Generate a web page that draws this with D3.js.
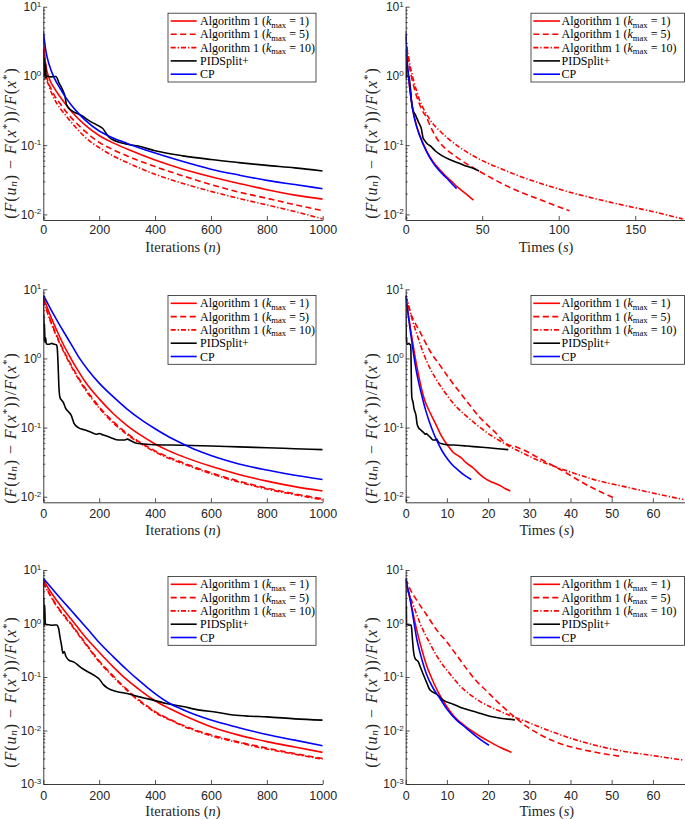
<!DOCTYPE html>
<html><head><meta charset="utf-8">
<script src="https://cdn.jsdelivr.net/npm/d3@7"></script>
<style>body{margin:0;background:#fff}svg{display:block}</style>
</head><body>
<svg id="chart" width="685" height="819"></svg>
<script>
// ---------------- DATA ----------------
const legendNames = ["Algorithm 1 (k_max = 1)", "Algorithm 1 (k_max = 5)", "Algorithm 1 (k_max = 10)", "PIDSplit+", "CP"];
const iterTicks = [0, 200, 400, 600, 800, 1000];
const topTimeTicks = [0, 50, 100, 150];
const timeTicks = [0, 10, 20, 30, 40, 50, 60];
const yExpTop = [1, 0, -1, -2];
const yExpBot = [1, 0, -1, -2, -3];

// Row 1, iterations
const topIterAlg1 = [[0,4.0],[5,2.0],[10,1.35],[20,0.95],[40,0.66],[60,0.50],[80,0.39],[100,0.31],[150,0.195],[200,0.138],[250,0.108],[300,0.088],[400,0.061],[500,0.045],[600,0.035],[700,0.028],[800,0.0227],[900,0.019],[1000,0.0166]];
const topIterAlg5 = [[0,3.6],[5,1.7],[10,1.1],[20,0.78],[40,0.52],[60,0.40],[80,0.31],[100,0.25],[150,0.158],[200,0.11],[250,0.086],[300,0.070],[400,0.049],[500,0.036],[600,0.027],[700,0.021],[800,0.0171],[900,0.0138],[1000,0.0113]];
const topIterAlg10 = [[0,3.3],[5,1.6],[10,1.0],[20,0.72],[40,0.46],[60,0.34],[80,0.27],[100,0.215],[150,0.13],[200,0.092],[250,0.07],[300,0.056],[400,0.038],[500,0.028],[600,0.0215],[700,0.017],[800,0.0137],[900,0.011],[1000,0.0086]];
const topIterPID = [[0,2.4],[2,1.0],[4,1.8],[6,0.9],[8,1.5],[10,0.95],[14,1.0],[25,0.97],[45,0.98],[57,0.78],[69,0.63],[78,0.5],[82,0.40],[87,0.36],[99,0.32],[135,0.27],[171,0.217],[195,0.193],[213,0.174],[225,0.148],[237,0.128],[249,0.12],[300,0.103],[340,0.097],[400,0.083],[500,0.07],[600,0.062],[700,0.056],[800,0.051],[900,0.047],[1000,0.0424]];
const topIterCP = [[0,4.46],[10,2.2],[20,1.5],[40,0.92],[60,0.66],[80,0.49],[100,0.38],[125,0.29],[150,0.23],[200,0.16],[250,0.127],[300,0.106],[400,0.077],[500,0.058],[600,0.045],[700,0.037],[800,0.031],[900,0.027],[1000,0.0235]];

// Row 1, times
const topTimeAlg1 = [[0,4.0],[0.5,2.3],[1,1.5],[1.7,1.05],[2.8,0.62],[4,0.41],[5,0.3],[7,0.195],[9.4,0.135],[13.7,0.082],[18,0.057],[22.3,0.044],[26.7,0.035],[30,0.03],[33.3,0.0255],[38,0.021],[44.3,0.0161]];
const topTimeAlg5 = [[0,3.6],[0.5,2.8],[1,2.3],[2,1.6],[3,1.15],[4,0.92],[5,0.75],[6.5,0.56],[8.5,0.42],[10.7,0.32],[13.7,0.25],[16,0.19],[19,0.14],[21.4,0.115],[26.75,0.086],[32.1,0.07],[42.8,0.049],[53.5,0.036],[64.2,0.027],[74.9,0.021],[85.6,0.0171],[96.3,0.0138],[107,0.0113]];
const topTimeAlg10 = [[0,3.8],[0.5,2.9],[1,2.4],[2,1.8],[3,1.35],[4,1.1],[5.5,0.8],[7.2,0.6],[9,0.45],[11.5,0.34],[14.5,0.26],[18.1,0.2],[22.4,0.16],[27.15,0.128],[36.2,0.09],[45.25,0.068],[54.3,0.054],[63,0.045],[72.4,0.037],[90.5,0.027],[108.6,0.0205],[126.7,0.0163],[144.8,0.0132],[162.9,0.0108],[181,0.0086]];
const topTimePID = [[0,2.4],[0.1,1.0],[0.2,1.8],[0.3,0.9],[0.4,1.5],[0.5,0.95],[1.0,1.0],[2.2,0.97],[2.8,0.75],[3.3,0.6],[3.8,0.42],[4.3,0.35],[5,0.31],[6.5,0.27],[8.3,0.217],[9.4,0.193],[10.2,0.174],[10.8,0.148],[11.3,0.128],[12,0.12],[14.4,0.103],[16.3,0.097],[19.2,0.083],[24,0.07],[28.8,0.062],[33.6,0.056],[38.4,0.051],[43.2,0.047],[48,0.0424]];
const topTimeCP = [[0,4.46],[0.5,2.5],[1,1.6],[1.7,1.1],[2.8,0.63],[4,0.4],[5,0.29],[7,0.19],[9.4,0.132],[13.7,0.080],[18,0.055],[22.3,0.042],[26.7,0.0335],[30,0.028],[33.3,0.0236]];

// Row 2, iterations
const midIterAlg1 = [[0,7.8],[25,4.2],[50,2.45],[75,1.5],[100,0.98],[125,0.66],[150,0.46],[200,0.26],[250,0.16],[300,0.107],[350,0.077],[400,0.058],[450,0.046],[500,0.038],[600,0.0275],[700,0.021],[800,0.0168],[900,0.014],[1000,0.0121]];
const midIterAlg5 = [[0,7.2],[25,3.6],[50,2.05],[75,1.25],[100,0.8],[125,0.53],[150,0.37],[200,0.2],[250,0.122],[300,0.082],[350,0.06],[400,0.046],[450,0.037],[500,0.031],[600,0.0222],[700,0.0168],[800,0.0133],[900,0.011],[1000,0.0093]];
const midIterAlg10 = [[0,7.0],[25,3.5],[50,1.98],[75,1.2],[100,0.77],[125,0.51],[150,0.355],[200,0.192],[250,0.117],[300,0.079],[350,0.058],[400,0.0445],[450,0.0358],[500,0.030],[600,0.0215],[700,0.0163],[800,0.0129],[900,0.0107],[1000,0.009]];
const midIterPID = [[0,8.0],[1,3.0],[2,4.5],[3,1.8],[4,3.2],[6,1.7],[8,2.0],[11,1.62],[20,1.6],[30,1.65],[40,1.6],[47,1.58],[50,1.4],[53,0.8],[56,0.38],[60,0.27],[65,0.25],[72,0.23],[80,0.19],[90,0.17],[100,0.15],[110,0.115],[125,0.1],[150,0.092],[175,0.084],[190,0.08],[200,0.082],[215,0.078],[240,0.072],[270,0.066],[290,0.066],[300,0.068],[315,0.064],[330,0.06],[360,0.058],[400,0.0565],[500,0.0555],[600,0.054],[700,0.0525],[800,0.051],[900,0.0495],[1000,0.048]];
const midIterCP = [[0,8.3],[25,5.3],[50,3.5],[75,2.35],[100,1.6],[130,1.0],[160,0.68],[200,0.44],[250,0.28],[300,0.185],[350,0.13],[400,0.096],[450,0.073],[500,0.058],[550,0.047],[600,0.0395],[650,0.034],[700,0.0298],[800,0.0243],[900,0.0204],[1000,0.0177]];

// Row 2, times
const midTimeAlg1 = [[0,7.8],[0.6,4.5],[1.2,2.6],[1.85,1.5],[2.65,0.8],[3.5,0.45],[4.2,0.3],[4.7,0.24],[5.9,0.165],[7.5,0.106],[8.7,0.075],[10.3,0.054],[11.5,0.044],[12.8,0.039],[13.6,0.036],[14.4,0.032],[16.4,0.026],[18,0.021],[19.6,0.0178],[21.2,0.016],[22.9,0.0145],[24.2,0.013],[25.4,0.0121]];
const midTimeAlg5 = [[0,8.0],[0.5,6.2],[1,4.8],[2,3.5],[3.5,2.4],[6,1.25],[8.3,0.8],[10.7,0.5],[13.2,0.32],[15.6,0.21],[18,0.14],[20.5,0.1],[22,0.082],[23,0.07],[24.5,0.058],[27,0.052],[29.4,0.045],[32,0.037],[35.8,0.028],[39,0.022],[42.3,0.0168],[46,0.0128],[50.4,0.0097]];
const midTimeAlg10 = [[0,8.0],[0.6,6.3],[1.4,4.0],[2.65,2.3],[4.3,1.19],[5.9,0.72],[7.5,0.49],[9.9,0.30],[12.3,0.2],[14.8,0.145],[17.2,0.11],[20.4,0.079],[23.7,0.06],[25,0.054],[27.7,0.045],[31,0.036],[35,0.029],[40.7,0.022],[46,0.0175],[52.8,0.0141],[60,0.0113],[67.4,0.0091]];
const midTimePID = [[0,8.0],[0.03,3.0],[0.05,4.5],[0.08,1.8],[0.1,3.2],[0.15,1.7],[0.2,2.0],[0.28,1.62],[0.5,1.6],[0.75,1.65],[1.0,1.6],[1.17,1.58],[1.25,1.4],[1.32,0.8],[1.4,0.38],[1.5,0.27],[1.62,0.25],[1.8,0.23],[2.0,0.19],[2.24,0.17],[2.5,0.15],[2.74,0.115],[3.1,0.1],[3.7,0.092],[4.4,0.084],[4.7,0.08],[5.0,0.082],[5.4,0.078],[6.0,0.072],[6.7,0.066],[7.2,0.066],[7.5,0.068],[7.8,0.064],[8.2,0.06],[9,0.058],[10,0.0565],[12.5,0.0555],[15,0.054],[17.4,0.0525],[20,0.051],[22.4,0.0495],[24.9,0.048]];
const midTimeCP = [[0,8.3],[0.4,5.3],[0.8,3.5],[1.19,2.35],[1.59,1.6],[2.07,1.0],[2.54,0.68],[3.18,0.44],[3.98,0.28],[4.77,0.185],[5.57,0.13],[6.36,0.096],[7.16,0.073],[7.95,0.058],[8.75,0.047],[9.54,0.0395],[10.34,0.034],[11.13,0.0298],[12.72,0.0243],[14.31,0.0204],[15.9,0.0177]];

// Row 3, iterations
const botIterAlg1 = [[0,6.5],[25,4.0],[50,2.6],[75,1.75],[100,1.2],[130,0.76],[160,0.49],[200,0.29],[250,0.155],[300,0.088],[340,0.06],[375,0.044],[400,0.036],[450,0.026],[500,0.0195],[600,0.0118],[700,0.0082],[800,0.0062],[900,0.0049],[1000,0.0039]];
const botIterAlg5 = [[0,6.0],[25,3.4],[50,2.1],[75,1.42],[100,0.98],[130,0.6],[160,0.37],[200,0.2],[250,0.105],[300,0.058],[340,0.038],[375,0.028],[400,0.0225],[450,0.0165],[500,0.0125],[600,0.0083],[700,0.0061],[800,0.0047],[900,0.0037],[1000,0.0030]];
const botIterAlg10 = [[0,5.8],[25,3.3],[50,2.02],[75,1.36],[100,0.94],[130,0.575],[160,0.355],[200,0.192],[250,0.1],[300,0.056],[340,0.0365],[375,0.027],[400,0.0217],[450,0.016],[500,0.0121],[600,0.008],[700,0.0059],[800,0.0045],[900,0.0036],[1000,0.0029]];
const botIterPID = [[0,6.5],[1,1.2],[2,3.0],[3,0.9],[5,2.2],[7,1.0],[10,0.95],[20,0.95],[30,0.93],[48,0.94],[55,0.8],[60,0.55],[65,0.4],[70,0.28],[75,0.3],[80,0.25],[90,0.21],[110,0.19],[135,0.15],[160,0.125],[185,0.105],[200,0.092],[215,0.072],[230,0.062],[265,0.053],[300,0.049],[340,0.043],[375,0.039],[440,0.032],[500,0.028],[560,0.024],[620,0.022],[680,0.0195],[740,0.0185],[800,0.018],[900,0.0165],[1000,0.0156]];
const botIterCP = [[0,7.0],[25,4.9],[50,3.45],[75,2.45],[100,1.75],[130,1.16],[160,0.77],[200,0.44],[250,0.24],[300,0.135],[340,0.088],[375,0.062],[400,0.049],[453,0.032],[500,0.0245],[600,0.0157],[700,0.0113],[800,0.0084],[900,0.0066],[1000,0.0052]];

// Row 3, times
const botTimeAlg1 = [[0,6.5],[0.5,4.3],[1,3.0],[2,1.3],[3,0.6],[4,0.31],[5,0.17],[6.5,0.088],[8,0.05],[10,0.028],[12,0.0175],[14.5,0.012],[17,0.0088],[20,0.0064],[23,0.0048],[25.7,0.0039]];
const botTimeAlg5 = [[0,7.0],[1,4.5],[2.65,2.75],[5.1,1.44],[7.5,0.76],[9.9,0.46],[12.3,0.26],[14.7,0.145],[17.1,0.085],[19.6,0.055],[22,0.036],[24.5,0.024],[26,0.019],[27,0.0165],[29.4,0.0118],[32.5,0.0085],[35.8,0.0064],[39,0.0052],[42.3,0.0045],[47,0.0038],[52,0.0033]];
const botTimeAlg10 = [[0,6.8],[0.5,4.5],[1.85,2.2],[3.5,1.0],[5.9,0.42],[8.3,0.2],[10.7,0.115],[13.2,0.068],[15.6,0.047],[18,0.035],[21.3,0.026],[25.4,0.019],[29.4,0.0145],[35,0.0098],[40.7,0.0069],[46,0.0053],[52.8,0.0041],[60,0.0034],[67.4,0.0028]];
const botTimePID = [[0,6.5],[0.03,1.2],[0.06,3.0],[0.09,0.9],[0.15,2.2],[0.2,1.0],[0.3,0.95],[0.6,0.95],[0.9,0.93],[1.3,0.94],[1.45,0.8],[1.6,0.55],[1.75,0.4],[1.9,0.3],[2.3,0.22],[3.1,0.19],[3.6,0.15],[4.3,0.11],[5.2,0.075],[5.9,0.057],[7.5,0.048],[9.1,0.037],[11.5,0.031],[13.9,0.026],[17.2,0.022],[20.4,0.0184],[22.9,0.017],[26.5,0.0158]];
const botTimeCP = [[0,7.0],[0.5,4.5],[1.04,2.96],[1.85,1.25],[2.65,0.53],[3.5,0.28],[4.3,0.17],[5.1,0.11],[6.7,0.061],[8.3,0.04],[9.9,0.0258],[12.3,0.0158],[14.7,0.0111],[17.1,0.0078],[20.2,0.0053]];

// ---------------- DRAWING ----------------
const svg = d3.select('#chart');
const RED = '#ff0000', BLUE = '#0000ff', BLACK = '#000000', AX = '#262626';
const styles = [
  {c: RED, d: null}, {c: RED, d: '6,3.5'}, {c: RED, d: '5,2,1.3,2'},
  {c: BLACK, d: null}, {c: BLUE, d: null}
];
const SERIF = "'Liberation Serif','Times New Roman',serif";
const SANS = "'Liberation Sans',Arial,Helvetica,sans-serif";

const L = {legX: 168, legW: 148, lineX: [170.7, 196.7], textX: 200, ylabX: 10};
const R = {legX: 531, legW: 153.5, lineX: [533.3, 560], textX: 561.5, ylabX: 371};

const panels = [
  {data: [topIterAlg1, topIterAlg5, topIterAlg10, topIterPID, topIterCP], side: L, xDom: [0, 1000], xR: [43.3, 322.7], xTicks: iterTicks,
   yDom: [0.0083, 10], yR: [220, 6.7], yExps: yExpTop, tickBase: 233.5, titleBase: 252, xTitle: 'iter', row0: 21, ylabY: 143},
  {data: [topTimeAlg1, topTimeAlg5, topTimeAlg10, topTimePID, topTimeCP], side: R, xDom: [0, 183.5], xR: [405.7, 686.5], xTicks: topTimeTicks,
   yDom: [0.0083, 10], yR: [220, 6.7], yExps: yExpTop, tickBase: 233.5, titleBase: 252, xTitle: 'time', row0: 21, ylabY: 143},
  {data: [midIterAlg1, midIterAlg5, midIterAlg10, midIterPID, midIterCP], side: L, xDom: [0, 1000], xR: [43.3, 322.7], xTicks: iterTicks,
   yDom: [0.0083, 10], yR: [502.3, 289.3], yExps: yExpTop, tickBase: 518.5, titleBase: 535, xTitle: 'iter', row0: 303.3, ylabY: 428},
  {data: [midTimeAlg1, midTimeAlg5, midTimeAlg10, midTimePID, midTimeCP], side: R, xDom: [0, 68.5], xR: [405.7, 687.9], xTicks: timeTicks,
   yDom: [0.0083, 10], yR: [502.3, 289.3], yExps: yExpTop, tickBase: 518.5, titleBase: 535, xTitle: 'time', row0: 303.3, ylabY: 428},
  {data: [botIterAlg1, botIterAlg5, botIterAlg10, botIterPID, botIterCP], side: L, xDom: [0, 1000], xR: [43.3, 322.7], xTicks: iterTicks,
   yDom: [0.001, 10], yR: [784, 570], yExps: yExpBot, tickBase: 799.5, titleBase: 816, xTitle: 'iter', row0: 584.3, ylabY: 692},
  {data: [botTimeAlg1, botTimeAlg5, botTimeAlg10, botTimePID, botTimeCP], side: R, xDom: [0, 68.5], xR: [405.7, 687.9], xTicks: timeTicks,
   yDom: [0.001, 10], yR: [784, 570], yExps: yExpBot, tickBase: 799.5, titleBase: 816, xTitle: 'time', row0: 584.3, ylabY: 692}
];

function rich(textSel, parts, baseSize) {
  let shift = 0;
  parts.forEach(p => {
    const ts = textSel.append('tspan').text(p.t);
    const s = p.shift || 0;
    if (s !== shift) { ts.attr('dy', s - shift); shift = s; }
    if (p.it) ts.attr('font-style', 'italic');
    if (p.sm) ts.attr('font-size', baseSize * p.sm);
  });
}

const defs = svg.append('defs');

panels.forEach((P, pi) => {
  const g = svg.append('g');
  const x = d3.scaleLinear().domain(P.xDom).range(P.xR);
  const y = d3.scaleLog().domain(P.yDom).range(P.yR);
  const x0 = P.xR[0];
  const yb = P.yR[0];

  defs.append('clipPath').attr('id', 'clip' + pi).append('rect')
    .attr('x', x0).attr('y', P.yR[1] - 1).attr('width', P.xR[1] - x0).attr('height', yb - P.yR[1] + 1);

  const line = d3.line().x(d => x(d[0])).y(d => y(d[1])).curve(d3.curveMonotoneX);
  const cg = g.append('g').attr('clip-path', `url(#clip${pi})`);
  P.data.forEach((ser, si) => {
    cg.append('path').datum(ser).attr('d', line)
      .attr('fill', 'none').attr('stroke', styles[si].c).attr('stroke-width', 1.6)
      .attr('stroke-linejoin', 'round')
      .attr('stroke-dasharray', styles[si].d);
  });

  // y axis
  const majors = P.yExps.map(e => Math.pow(10, e));
  const minors = [];
  for (let e = d3.min(P.yExps) - 1; e <= d3.max(P.yExps); e++)
    for (let m = 2; m <= 9; m++) { const v = m * Math.pow(10, e); if (v >= P.yDom[0] && v <= P.yDom[1]) minors.push(v); }
  const yAxisG = g.append('g').attr('transform', `translate(${x0},0)`)
    .call(d3.axisLeft(y).tickValues(majors).tickSizeInner(-4).tickSizeOuter(0).tickPadding(2).tickFormat(''));
  g.append('g').attr('transform', `translate(${x0},0)`)
    .call(d3.axisLeft(y).tickValues(minors).tickSizeInner(-2).tickSizeOuter(0).tickFormat(''))
    .call(s => s.select('.domain').remove());
  yAxisG.selectAll('.tick text').each(function(d) {
    const t = d3.select(this).text(null).attr('font-family', SANS).attr('font-size', 12).attr('fill', AX).attr('x', -2);
    t.append('tspan').text('10');
    t.append('tspan').text(String(Math.round(Math.log10(d)))).attr('font-size', 8).attr('dy', -4.3);
  });

  // x axis
  const xAxisG = g.append('g').attr('transform', `translate(0,${yb})`)
    .call(d3.axisBottom(x).tickValues(P.xTicks).tickSizeInner(-4).tickSizeOuter(0).tickFormat(d3.format('d')));
  xAxisG.selectAll('.tick text').attr('y', P.tickBase - yb).attr('dy', null)
    .attr('font-family', SANS).attr('font-size', 12.5).attr('fill', AX);
  g.selectAll('.domain').attr('stroke', AX).attr('stroke-width', 0.9);
  g.selectAll('.tick line').attr('stroke', AX).attr('stroke-width', 0.8);

  // x title
  const xt = g.append('text').attr('x', (P.xR[0] + P.xR[1]) / 2).attr('y', P.titleBase)
    .attr('text-anchor', 'middle').attr('font-family', SERIF).attr('font-size', 14.5).attr('fill', AX);
  if (P.xTitle === 'iter') rich(xt, [{t: 'Iterations ('}, {t: 'n', it: true}, {t: ')'}], 14.5);
  else rich(xt, [{t: 'Times ('}, {t: 's', it: true}, {t: ')'}], 14.5);

  // y title
  const yfs = 16;
  const yt = g.append('text').attr('transform', `translate(${P.side.ylabX},${P.ylabY}) rotate(-90)`)
    .attr('text-anchor', 'middle').attr('dominant-baseline', 'central')
    .attr('font-family', SERIF).attr('font-size', yfs).attr('fill', AX);
  rich(yt, [{t: '('}, {t: 'F', it: true}, {t: '('}, {t: 'u', it: true}, {t: 'n', it: true, sm: 0.7, shift: 3}, {t: ')'},
    {t: ' \u2212 '}, {t: 'F', it: true}, {t: '('}, {t: 'x', it: true}, {t: '*', sm: 0.7, shift: -4.5}, {t: '))'},
    {t: '/'}, {t: 'F', it: true}, {t: '('}, {t: 'x', it: true}, {t: '*', sm: 0.7, shift: -4.5}, {t: ')'}], yfs);
  const len = yt.node().getComputedTextLength();
  const nch = yt.text().length;
  const ls = Math.max(0, Math.min(0.9, (192 - len) / nch));
  yt.attr('letter-spacing', ls);

  // legend
  const S = P.side;
  const rowH = 13.3;
  const lg = g.append('g');
  lg.append('rect').attr('x', S.legX).attr('y', P.row0 - 7.8).attr('width', S.legW).attr('height', rowH * 4 + 15.6)
    .attr('fill', '#fff').attr('stroke', AX).attr('stroke-width', 0.8);
  legendNames.forEach((name, i) => {
    const yy = P.row0 + i * rowH;
    lg.append('line').attr('x1', S.lineX[0]).attr('x2', S.lineX[1]).attr('y1', yy).attr('y2', yy)
      .attr('stroke', styles[i].c).attr('stroke-width', 1.6).attr('stroke-dasharray', styles[i].d);
    const tx = lg.append('text').attr('x', S.textX).attr('y', yy + 4)
      .attr('font-family', SERIF).attr('font-size', 12).attr('fill', '#000');
    const m = name.match(/^(.*\()k_max(.*)$/);
    if (m) rich(tx, [{t: m[1]}, {t: 'k', it: true}, {t: 'max', sm: 0.72, shift: 2.5}, {t: m[2]}], 12);
    else tx.text(name);
  });
});
</script>
</body></html>
